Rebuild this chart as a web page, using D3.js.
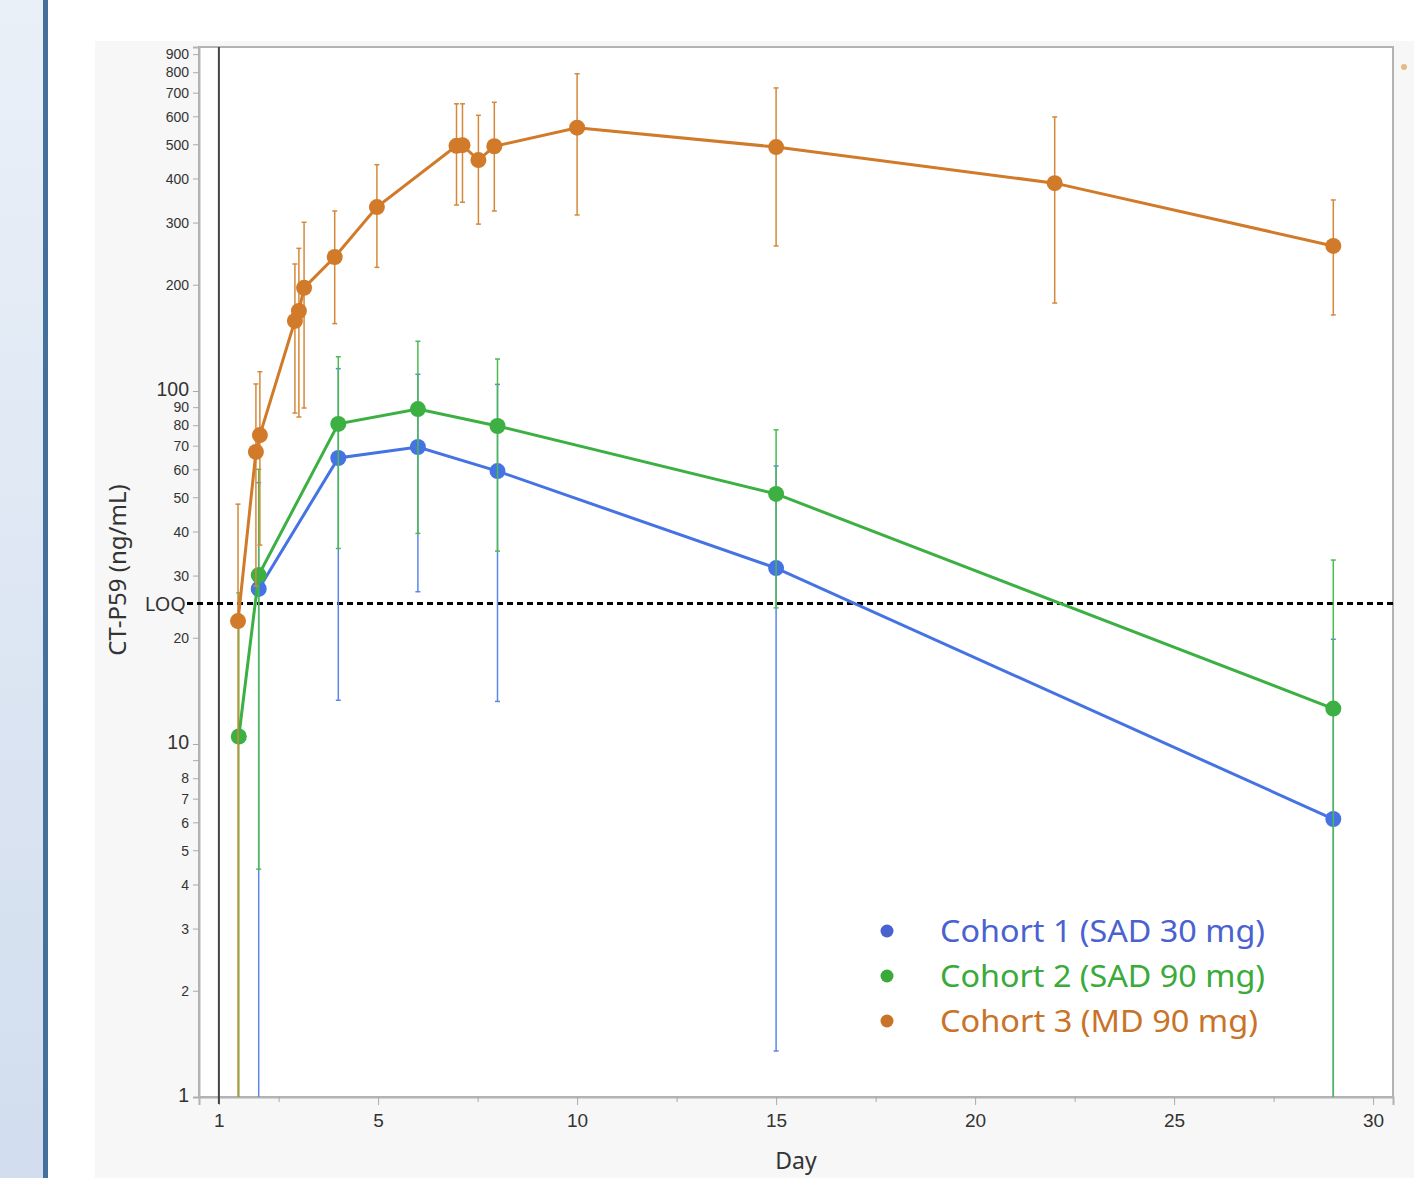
<!DOCTYPE html>
<html>
<head>
<meta charset="utf-8">
<script src="https://cdn.jsdelivr.net/npm/d3@7"></script>
<style>
  html, body { margin: 0; padding: 0; background: #fff; }
  svg { display: block; font-family: "Noto Sans", "Open Sans", sans-serif; }
</style>
</head>
<body>
<svg id="chart" width="1414" height="1178"></svg>
<script>
// ---- data ----
const c1Days  = [2, 4, 6, 8, 15, 29];
const c1Mean  = [27.5, 64.6, 69.4, 59.3, 31.5, 6.13];
const c1Low   = [0.5, 13.3, 27.0, 13.2, 1.35, 0.5];
const c1High  = [55, 115.7, 111.5, 104.4, 61.3, 19.8];

const c2Days  = [1.5, 2, 4, 6, 8, 15, 29];
const c2Mean  = [10.5, 30.1, 80.7, 88.9, 79.6, 51.1, 12.6];
const c2Low   = [0.5, 4.42, 35.8, 39.5, 35.2, 24.3, 0.5];
const c2High  = [26.8, 60, 125, 138.3, 123.2, 77.6, 33.2];

const c3Days  = [1.48, 1.93, 2.03, 2.91, 3.01, 3.14, 3.91, 4.97, 6.97, 7.12, 7.52, 7.92, 10, 15, 22, 29];
const c3Mean  = [22.3, 67.2, 75.0, 158, 168.5, 196, 239.7, 332, 495, 497, 451, 493.5, 557, 491, 388, 257.6];
const c3Low   = [0.5, 28, 36.6, 86.6, 84.4, 89.5, 155.2, 224, 336.5, 342.5, 297, 323.6, 315.3, 257.6, 177.5, 164.2];
const c3High  = [47.8, 104.7, 113.4, 229, 253.6, 300.6, 323.6, 437.6, 651, 651, 604, 657.5, 792, 722, 597.5, 347.7];

const cohortNames = ["Cohort 1 (SAD 30 mg)", "Cohort 2 (SAD 90 mg)", "Cohort 3 (MD 90 mg)"];
const xTicks = [1, 5, 10, 15, 20, 25, 30];
const xMinorTicks = [2.5, 7.5, 12.5, 17.5, 22.5, 27.5];
const yTicks = [1, 2, 3, 4, 5, 6, 7, 8, 9, 10, 20, 30, 40, 50, 60, 70, 80, 90, 100, 200, 300, 400, 500, 600, 700, 800, 900];
const yLabelSkip = [9];
const loq = 25;

const series = [
  { name: cohortNames[0], days: c1Days, mean: c1Mean, low: c1Low, high: c1High, line: "#4573e3", err: "#5b86ea", text: "#4a62cf" },
  { name: cohortNames[1], days: c2Days, mean: c2Mean, low: c2Low, high: c2High, line: "#3cb043", err: "#4dba4f", text: "#3aaa3a" },
  { name: cohortNames[2], days: c3Days, mean: c3Mean, low: c3Low, high: c3High, line: "#d07a2a", err: "#d68838", text: "#c97328" }
];

const svg = d3.select("#chart");

// ---- page background pieces ----
const grad = svg.append("defs").append("linearGradient")
    .attr("id", "sidegrad").attr("x1", 0).attr("y1", 0).attr("x2", 0).attr("y2", 1);
grad.append("stop").attr("offset", "0%").attr("stop-color", "#eaf0f8");
grad.append("stop").attr("offset", "100%").attr("stop-color", "#d1ddee");
svg.append("rect").attr("x", 0).attr("y", 0).attr("width", 43).attr("height", 1178).attr("fill", "url(#sidegrad)");
svg.append("rect").attr("x", 43).attr("y", 0).attr("width", 5).attr("height", 1178).attr("fill", "#46709c");
svg.append("rect").attr("x", 95).attr("y", 41).attr("width", 1319).attr("height", 1137).attr("fill", "#f7f7f7");

const margin = { top: 47, right: 21, bottom: 81, left: 199 };
const W = 1414, H = 1178;
const x = d3.scaleLinear().domain([0.5, 30.5]).range([margin.left, W - margin.right]);
const y = d3.scaleLog().domain([1, 943]).range([H - margin.bottom, margin.top]);

// plot area
svg.append("rect")
    .attr("x", x.range()[0]).attr("y", y.range()[1])
    .attr("width", x.range()[1] - x.range()[0])
    .attr("height", y.range()[0] - y.range()[1])
    .attr("fill", "#fff")
    .attr("stroke", "#b3b3b3").attr("stroke-width", 2);

svg.append("clipPath").attr("id", "clip").append("rect")
    .attr("x", x.range()[0]).attr("y", y.range()[1])
    .attr("width", x.range()[1] - x.range()[0])
    .attr("height", y.range()[0] - y.range()[1]);

// cut-off legend marker peeking at the right edge
svg.append("circle").attr("cx", 1404).attr("cy", 67).attr("r", 3).attr("fill", "#e0a050").attr("opacity", 0.7);

// ---- axes ----
const xAxis = svg.append("g")
    .attr("transform", "translate(0," + y.range()[0] + ")")
    .call(d3.axisBottom(x).tickValues(xTicks).tickSize(8).tickPadding(9).tickFormat(d3.format("d")));
xAxis.select(".domain").attr("stroke", "#b3b3b3").attr("stroke-width", 2);
xAxis.selectAll(".tick line").attr("stroke", "#aaa");
xAxis.selectAll(".tick text").attr("fill", "#333").style("font-size", "19px");

svg.append("g")
    .attr("transform", "translate(0," + y.range()[0] + ")")
    .call(d3.axisBottom(x).tickValues(xMinorTicks).tickSize(5).tickFormat(""))
    .call(g => g.select(".domain").remove())
    .selectAll(".tick line").attr("stroke", "#aaa");

const isDecade = d => d === 1 || d === 10 || d === 100;
const yAxis = svg.append("g")
    .attr("transform", "translate(" + x.range()[0] + ",0)")
    .call(d3.axisLeft(y).tickValues(yTicks).tickSize(6).tickPadding(4)
        .tickFormat(d => yLabelSkip.includes(d) ? "" : d));
yAxis.select(".domain").attr("stroke", "#b3b3b3").attr("stroke-width", 2);
yAxis.selectAll(".tick line").attr("stroke", "#aaa");
yAxis.selectAll(".tick text")
    .attr("fill", "#333")
    .attr("dy", d => isDecade(d) ? "0.25em" : "0.34em")
    .style("font-size", d => isDecade(d) ? "19.5px" : "14px");

// axis titles
svg.append("text")
    .attr("x", (x.range()[0] + x.range()[1]) / 2)
    .attr("y", 1169)
    .attr("text-anchor", "middle")
    .attr("fill", "#333")
    .style("font-size", "23px")
    .text("Day");

svg.append("text")
    .attr("transform", "translate(126," + 570 + ") rotate(-90)")
    .attr("text-anchor", "middle")
    .attr("fill", "#333")
    .style("font-size", "24px")
    .text("CT-P59 (ng/mL)");

// day-1 reference line
svg.append("line")
    .attr("x1", x(1)).attr("x2", x(1))
    .attr("y1", y.range()[1]).attr("y2", y.range()[0] + 7)
    .attr("stroke", "#444").attr("stroke-width", 2);

// LOQ line
svg.append("line")
    .attr("x1", x.range()[0] - 12).attr("x2", x.range()[1])
    .attr("y1", y(loq)).attr("y2", y(loq))
    .attr("stroke", "#000").attr("stroke-width", 3)
    .attr("stroke-dasharray", "6,4");
svg.append("text")
    .attr("x", 186).attr("y", y(loq))
    .attr("dy", "0.38em")
    .attr("text-anchor", "end")
    .attr("fill", "#333")
    .style("font-size", "20px")
    .text("LOQ");

// ---- series ----
const plot = svg.append("g").attr("clip-path", "url(#clip)");
const lineGen = d3.line().x(d => x(d.day)).y(d => y(d.mean));
const yMin = y.domain()[0];

series.forEach(s => {
    const pts = s.days.map((d, i) => ({ day: d, mean: s.mean[i], low: s.low[i], high: s.high[i] }));
    const g = plot.append("g");

    // error bars
    g.selectAll(".err").data(pts).enter().append("line")
        .attr("x1", d => x(d.day)).attr("x2", d => x(d.day))
        .attr("y1", d => y(Math.max(d.low, yMin))).attr("y2", d => y(d.high))
        .attr("stroke", s.err).attr("stroke-width", 1.5);
    g.selectAll(".capHi").data(pts).enter().append("line")
        .attr("x1", d => x(d.day) - 2.5).attr("x2", d => x(d.day) + 2.5)
        .attr("y1", d => y(d.high)).attr("y2", d => y(d.high))
        .attr("stroke", s.err).attr("stroke-width", 1.5);
    g.selectAll(".capLo").data(pts.filter(d => d.low >= yMin)).enter().append("line")
        .attr("x1", d => x(d.day) - 2.5).attr("x2", d => x(d.day) + 2.5)
        .attr("y1", d => y(d.low)).attr("y2", d => y(d.low))
        .attr("stroke", s.err).attr("stroke-width", 1.5);

    g.append("path").datum(pts)
        .attr("d", lineGen)
        .attr("fill", "none")
        .attr("stroke", s.line)
        .attr("stroke-width", 3);

    g.selectAll("circle").data(pts).enter().append("circle")
        .attr("cx", d => x(d.day)).attr("cy", d => y(d.mean))
        .attr("r", 8)
        .attr("fill", s.line);
});

// ---- legend ----
const legend = svg.append("g");
series.forEach((s, i) => {
    const ly = 931 + i * 45;
    legend.append("circle").attr("cx", 887).attr("cy", ly).attr("r", 6.5).attr("fill", s.text);
    legend.append("text")
        .attr("x", 940).attr("y", ly)
        .attr("dy", "0.36em")
        .attr("fill", s.text)
        .style("font-size", "31px")
        .attr("textLength", i === 2 ? 318 : 325)
        .attr("lengthAdjust", "spacingAndGlyphs")
        .text(s.name);
});
</script>
</body>
</html>
